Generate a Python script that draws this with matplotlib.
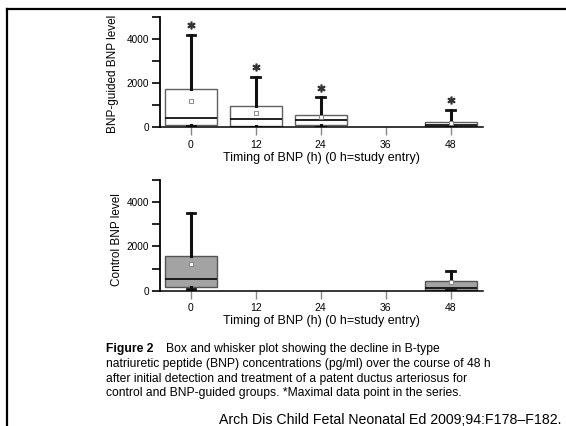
import matplotlib
matplotlib.use("Agg")
import matplotlib.pyplot as plt
from matplotlib.lines import Line2D

plt.rcParams['font.family'] = ['Liberation Sans', 'DejaVu Sans']

# ---- data (pg/ml) ----
hours_ticks = [0, 12, 24, 36, 48]

guided_pos = [0, 12, 24, 48]
guided_q1 = [110, 75, 90, 45]
guided_med = [420, 380, 340, 120]
guided_q3 = [1750, 980, 580, 240]
guided_lo = [45, 30, 30, 20]
guided_hi = [4180, 2270, 1360, 780]
guided_mean = [1170, 660, 480, 180]
guided_max = [4620, 2730, 1760, 1240]

control_pos = [0, 48]
control_q1 = [150, 30]
control_med = [520, 110]
control_q3 = [1570, 440]
control_lo = [80, 20]
control_hi = [3500, 900]
control_mean = [1210, 395]

W, H = 566, 426
fig = plt.figure(figsize=(W / 100, H / 100), dpi=100)


def make_axes(x0, y_top, y_bot):
    return fig.add_axes([x0 / W, 1 - y_bot / H, (483 - x0) / W, (y_bot - y_top) / H])


def style(ax, ylabel, ylab_x, ylab_y):
    ax.set_xlim(-5.7, 54)
    ax.set_ylim(0, 5000)
    for s in ['top', 'right']:
        ax.spines[s].set_visible(False)
    ax.spines['left'].set_linewidth(1.3)
    ax.spines['bottom'].set_linewidth(1.1)
    ax.set_yticks([0, 1000, 2000, 3000, 4000, 5000])
    ax.set_yticklabels(['0', '', '2000', '', '4000', ''])
    ax.set_xticks(hours_ticks)
    ax.set_xticklabels([str(h) for h in hours_ticks])
    ax.tick_params(axis='y', direction='out', length=6, width=1.2, labelsize=7.2, pad=2)
    ax.tick_params(axis='x', direction='out', length=6, width=1.0, color='#888888',
                   labelsize=7.5, pad=3)
    ax.set_xlabel('Timing of BNP (h) (0 h=study entry)', fontsize=9.0, labelpad=1.5)
    ax.set_ylabel(ylabel, fontsize=8.5)
    ax.yaxis.set_label_coords(ylab_x, ylab_y)
    ax.patch.set_alpha(0)


def draw(ax, pos, q1, med, q3, lo, hi, mean, face, edge):
    stats = []
    for i in range(len(pos)):
        stats.append(dict(q1=q1[i], med=med[i], q3=q3[i], whislo=lo[i], whishi=hi[i],
                          mean=mean[i], fliers=[]))
    ax.bxp(stats, positions=pos, widths=9.6, showmeans=True, patch_artist=True,
           manage_ticks=False, capwidths=1.6,
           boxprops=dict(facecolor=face, edgecolor=edge, linewidth=1.0),
           medianprops=dict(color='#111111', linewidth=1.3),
           whiskerprops=dict(color='#111111', linewidth=2.2),
           capprops=dict(color='#111111', linewidth=2.0),
           meanprops=dict(marker='s', markersize=2.5, markerfacecolor='white',
                          markeredgecolor='#777777', markeredgewidth=0.6))


ax1 = make_axes(160, 17, 127.3)
style(ax1, 'BNP-guided BNP level', (119 - 160) / 323, (127.3 - 74) / 110.3)
draw(ax1, guided_pos, guided_q1, guided_med, guided_q3, guided_lo, guided_hi,
     guided_mean, 'white', '#606060')
ax1.plot(guided_pos, guided_max, linestyle='none', marker='$*$', markersize=5,
         color='#333333', clip_on=False)

ax2 = make_axes(160, 180, 290.7)
style(ax2, 'Control BNP level', (123 - 160) / 323, (290.7 - 240) / 110.7)
draw(ax2, control_pos, control_q1, control_med, control_q3, control_lo, control_hi,
     control_mean, '#a3a3a3', '#555555')

# frame lines
fig.add_artist(Line2D([7 / W, 1], [1 - 8.5 / H, 1 - 8.5 / H], color='black', linewidth=1.6))
fig.add_artist(Line2D([7 / W, 7 / W], [0, 1 - 8.5 / H], color='black', linewidth=1.6))

# caption
cap_fs = 8.7
fig.text(106 / W, 1 - 349 / H, 'Figure 2', fontsize=cap_fs, fontweight='bold',
         va='center', ha='left')
fig.text(166 / W, 1 - 349 / H, 'Box and whisker plot showing the decline in B-type',
         fontsize=cap_fs, va='center', ha='left')
lines = ['natriuretic peptide (BNP) concentrations (pg/ml) over the course of 48 h',
         'after initial detection and treatment of a patent ductus arteriosus for',
         'control and BNP-guided groups. *Maximal data point in the series.']
for i, t in enumerate(lines):
    fig.text(106 / W, 1 - (364 + 14.6 * i) / H, t, fontsize=cap_fs, va='center', ha='left')

fig.text(219 / W, 1 - 420 / H, 'Arch Dis Child Fetal Neonatal Ed 2009;94:F178\u2013F182.',
         fontsize=10.2, va='center', ha='left')

fig.savefig('out.png', dpi=100)
